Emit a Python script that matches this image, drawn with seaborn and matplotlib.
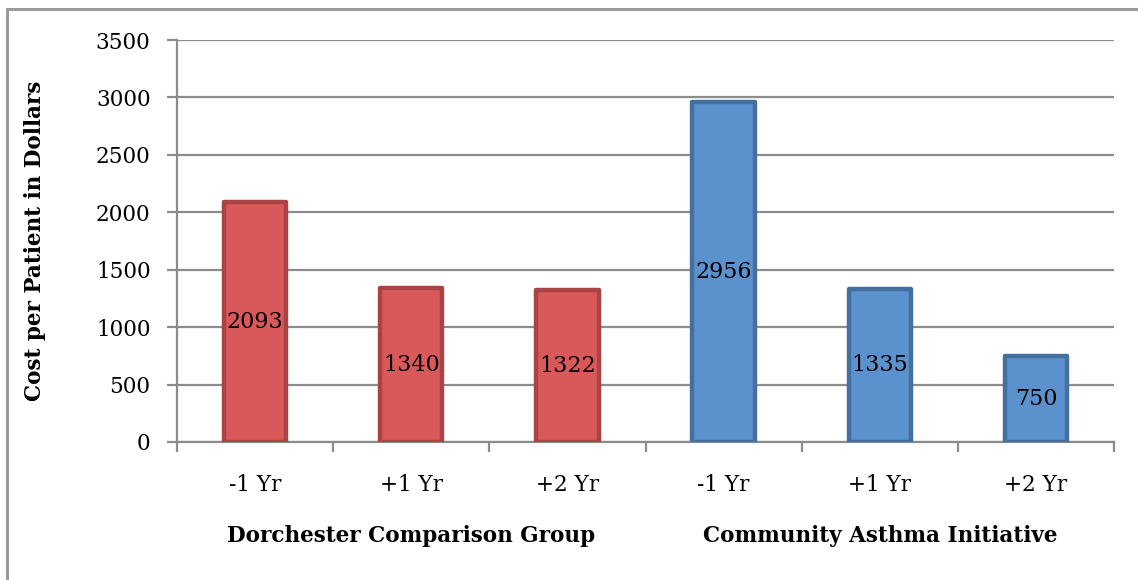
import matplotlib
matplotlib.use("Agg")
import matplotlib.pyplot as plt
from matplotlib.lines import Line2D
import seaborn as sns
import pandas as pd
import numpy as np

# Cost per patient before and after, for each group
periods = ["-1 Yr", "+1 Yr", "+2 Yr", "-1 Yr", "+1 Yr", "+2 Yr"]
groups = ["Dorchester Comparison Group"] * 3 + ["Community Asthma Initiative"] * 3
costs = [2093, 1340, 1322, 2956, 1335, 750]
group_names = ["Dorchester Comparison Group", "Community Asthma Initiative"]
fill_colors = {"Dorchester Comparison Group": "#D9595A",
               "Community Asthma Initiative": "#5B92CE"}
edge_colors = {"Dorchester Comparison Group": "#A94344",
               "Community Asthma Initiative": "#44709F"}
y_ticks = [0, 500, 1000, 1500, 2000, 2500, 3000, 3500]

df = pd.DataFrame({"slot": list(range(len(costs))), "period": periods,
                   "group": groups, "cost": costs})

sns.set_theme(style="white")
plt.rcParams["font.family"] = ["DejaVu Serif"]
plt.rcParams["text.color"] = "black"
plt.rcParams["xtick.color"] = "black"
plt.rcParams["ytick.color"] = "black"

fig = plt.figure(figsize=(11.38, 5.8), dpi=100)
ax = fig.add_axes([0.1555, 0.238, 0.8235, 0.693])

sns.barplot(data=df, x="slot", y="cost", hue="group", dodge=False,
            palette=fill_colors, hue_order=group_names, width=0.4,
            saturation=1, legend=False, ax=ax, zorder=3)

for patch, g in zip(ax.patches, groups):
    patch.set_edgecolor(edge_colors[g])
    patch.set_linewidth(3.2)
    patch.set_joinstyle("round")

FS = 15.5

# value labels at the middle of each bar
for i, v in enumerate(costs):
    ax.text(i, v / 2, str(v), ha="center", va="center", fontsize=16,
            color="black", zorder=5)

ax.set_xlim(-0.5, len(costs) - 0.5)
ax.set_ylim(0, 3500)
ax.set_yticks(y_ticks)
ax.set_yticklabels([str(t) for t in y_ticks], fontsize=FS)
ax.yaxis.grid(True, color="#8C8C8C", linewidth=1.6, zorder=0)
ax.set_axisbelow(True)

# category boundaries carry the tick marks; labels sit at bar centres
ax.set_xticks(np.arange(-0.5, len(costs), 1.0))
ax.set_xticklabels([])
ax.set_xticks(np.arange(len(costs)), minor=True)
ax.set_xticklabels(periods, minor=True, fontsize=FS)
ax.tick_params(axis="x", which="major", length=7, width=1.6, color="#8C8C8C",
               direction="out", bottom=True)
ax.tick_params(axis="x", which="minor", length=0, pad=23)
ax.tick_params(axis="y", length=7, width=1.6, color="#8C8C8C",
               labelcolor="black", direction="out", left=True, pad=12)

for side in ["top", "right"]:
    ax.spines[side].set_visible(False)
for side in ["left", "bottom"]:
    ax.spines[side].set_color("#8C8C8C")
    ax.spines[side].set_linewidth(1.6)

ax.set_xlabel("")
ax.set_ylabel("Cost per Patient in Dollars", fontsize=FS, fontweight="bold",
              color="black")
ax.yaxis.set_label_coords(-0.14, 0.5)

# group names under each half of the axis
for k, name in enumerate(group_names):
    ax.text(1 + 3 * k, -0.235, name, transform=ax.get_xaxis_transform(),
            ha="center", va="center", fontsize=FS, fontweight="bold",
            color="black")

# outer chart frame (left and top edges)
fig.add_artist(Line2D([7 / 1138, 7 / 1138], [0, 1 - 9 / 580],
                      transform=fig.transFigure, color="#9A9A9A", linewidth=2.2))
fig.add_artist(Line2D([7 / 1138, 1], [1 - 9 / 580, 1 - 9 / 580],
                      transform=fig.transFigure, color="#9A9A9A", linewidth=2.2))

fig.savefig("out.png", dpi=100)
